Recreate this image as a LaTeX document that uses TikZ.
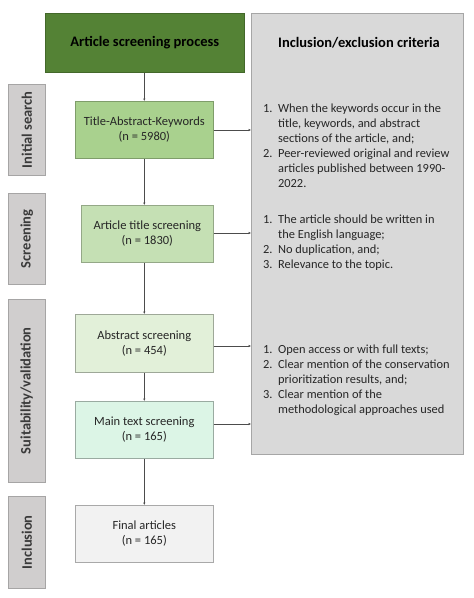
\documentclass[tikz,border=0pt]{standalone}
\usepackage{fontspec}
\setmainfont{Carlito}
\usetikzlibrary{arrows.meta}
\definecolor{hdrgreen}{HTML}{548235}
\definecolor{gA}{HTML}{A9D18E}
\definecolor{gB}{HTML}{C5E0B4}
\definecolor{gC}{HTML}{E2F0D9}
\definecolor{gD}{HTML}{DCF5E6}
\definecolor{gE}{HTML}{F2F2F2}
\definecolor{critfill}{HTML}{D9D9D9}
\definecolor{critline}{HTML}{A6A6A6}
\definecolor{sidefill}{HTML}{D0CECE}
\definecolor{sidetext}{HTML}{3A3A3A}
\definecolor{txt}{HTML}{262626}
\tikzset{
  box/.style={draw=critline!70, line width=0.6pt, anchor=north west, inner sep=0pt,
    align=center, font=\fontsize{12.5}{15}\selectfont, text=txt},
  sidebox/.style={draw=sidefill!80!black, fill=sidefill, line width=0.5pt, anchor=north west,
    minimum width=37pt, inner sep=0pt},
  sidelabel/.style={rotate=90, font=\bfseries\fontsize{14.5}{16}\selectfont, text=sidetext},
  arr/.style={draw=black!70, line width=0.6pt, -{Latex[length=2.5pt,width=2.5pt]}},
  crit/.style={anchor=north west, inner sep=0pt, font=\fontsize{12.4}{15}\selectfont, text=txt},
  hdrfont/.style={font=\bfseries\fontsize{14.5}{16}\selectfont, text=black}
}
\begin{document}
\begin{tikzpicture}[x=1pt,y=-1pt]
\useasboundingbox (0,0) rectangle (474,598);
% header and criteria box
\node[box, fill=hdrgreen, draw=hdrgreen!80!black, minimum width=199pt, minimum height=59pt,
  hdrfont] (hdr) at (45,13) {Article screening process};
\node[box, fill=critfill, draw=critline, minimum width=212pt, minimum height=441pt] (crit) at (251,13) {};
\node[hdrfont] (crithdr) at (359,43) {Inclusion/exclusion criteria};
% side labels
\node[sidebox, minimum height=91pt] (s1) at (8,84) {};
\node[sidelabel] (s1t) at (s1.center) {Initial search};
\node[sidebox, minimum height=91pt] (s2) at (8,193) {};
\node[sidelabel] (s2t) at (s2.center) {Screening};
\node[sidebox, minimum height=183pt] (s3) at (8,299) {};
\node[sidelabel] (s3t) at (s3.center) {Suitability/validation};
\node[sidebox, minimum height=92pt] (s4) at (8,496) {};
\node[sidelabel] (s4t) at (s4.center) {Inclusion};
% process boxes
\node[box, fill=gA, draw=gA!75!black, minimum width=138pt, minimum height=57pt] (b1) at (75,101) {Title-Abstract-Keywords\\(n = 5980)};
\node[box, fill=gB, draw=gB!75!black, minimum width=132pt, minimum height=57pt] (b2) at (81,205) {Article title screening\\(n = 1830)};
\node[box, fill=gC, draw=gC!70!black, minimum width=138pt, minimum height=58pt] (b3) at (75,314) {Abstract screening\\(n = 454)};
\node[box, fill=gD, draw=gD!70!black, minimum width=138pt, minimum height=57pt] (b4) at (75,401) {Main text screening\\(n = 165)};
\node[box, fill=gE, draw=gE!70!black, minimum width=138pt, minimum height=57pt] (b5) at (75,505) {Final articles\\(n = 165)};
% criteria lists
\node[crit] (c1) at (263,102) {\begin{tabular}{@{}l@{\hspace{5.5pt}}l@{}}
1. & When the keywords occur in the\\
   & title, keywords, and abstract\\
   & sections of the article, and;\\
2. & Peer-reviewed original and review\\
   & articles published between 1990-\\
   & 2022.
\end{tabular}};
\node[crit] (c2) at (263,213) {\begin{tabular}{@{}l@{\hspace{5.5pt}}l@{}}
1. & The article should be written in\\
   & the English language;\\
2. & No duplication, and;\\
3. & Relevance to the topic.
\end{tabular}};
\node[crit] (c3) at (263,343) {\begin{tabular}{@{}l@{\hspace{5.5pt}}l@{}}
1. & Open access or with full texts;\\
2. & Clear mention of the conservation\\
   & prioritization results, and;\\
3. & Clear mention of the\\
   & methodological approaches used
\end{tabular}};
% arrow targets on criteria box
\coordinate (t1) at (251,130);
\coordinate (t2) at (251,233);
\coordinate (t3) at (251,346);
\coordinate (t4) at (251,424);
% vertical arrows
\draw[arr] (hdr.south -| b1.north) -- (b1.north);
\draw[arr] (b1.south) -- (b1.south |- b2.north);
\draw[arr] (b1.south |- b2.south) -- (b3.north);
\draw[arr] (b3.south) -- (b4.north);
\draw[arr] (b4.south) -- (b5.north);
% horizontal arrows
\draw[arr] (b1.east |- t1) -- (t1);
\draw[arr] (b2.east |- t2) -- (t2);
\draw[arr] (b3.east |- t3) -- (t3);
\draw[arr] (b4.east |- t4) -- (t4);
\end{tikzpicture}
\end{document}
